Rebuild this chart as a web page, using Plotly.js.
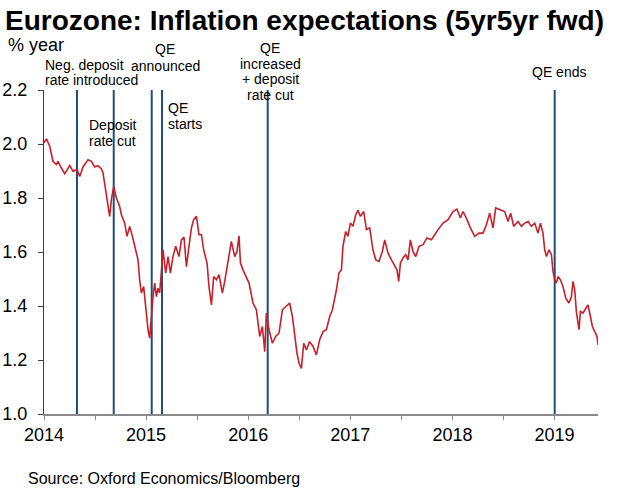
<!DOCTYPE html>
<html><head><meta charset="utf-8">
<script src="https://cdn.plot.ly/plotly-3.0.1.min.js"></script>
<style>html,body{margin:0;padding:0;background:#fff}#chart{width:625px;height:500px}</style>
</head><body><div id="chart"></div>
<script>
// ---- data (decimal years, % per year) ----
const dates = [2014.000,2014.024,2014.056,2014.088,2014.121,2014.137,2014.170,2014.203,2014.252,2014.284,2014.323,2014.350,2014.382,2014.431,2014.464,2014.497,2014.529,2014.562,2014.578,2014.604,2014.627,2014.643,2014.660,2014.683,2014.709,2014.741,2014.758,2014.790,2014.813,2014.839,2014.866,2014.888,2014.921,2014.937,2014.954,2014.976,2014.996,2015.019,2015.035,2015.052,2015.068,2015.084,2015.101,2015.117,2015.133,2015.166,2015.192,2015.215,2015.238,2015.263,2015.290,2015.322,2015.346,2015.371,2015.395,2015.420,2015.444,2015.466,2015.493,2015.518,2015.542,2015.564,2015.597,2015.616,2015.640,2015.662,2015.689,2015.714,2015.747,2015.770,2015.802,2015.835,2015.868,2015.890,2015.910,2015.924,2015.949,2015.982,2016.008,2016.047,2016.080,2016.113,2016.139,2016.162,2016.178,2016.204,2016.237,2016.269,2016.302,2016.335,2016.380,2016.406,2016.433,2016.455,2016.478,2016.498,2016.521,2016.544,2016.570,2016.602,2016.635,2016.668,2016.700,2016.733,2016.766,2016.798,2016.825,2016.864,2016.889,2016.913,2016.928,2016.955,2016.977,2017.001,2017.026,2017.053,2017.075,2017.099,2017.131,2017.158,2017.190,2017.222,2017.249,2017.281,2017.314,2017.337,2017.369,2017.403,2017.435,2017.457,2017.474,2017.491,2017.516,2017.543,2017.565,2017.589,2017.614,2017.641,2017.673,2017.712,2017.751,2017.794,2017.827,2017.859,2017.908,2017.957,2018.006,2018.045,2018.078,2018.104,2018.143,2018.176,2018.218,2018.261,2018.300,2018.333,2018.365,2018.398,2018.424,2018.463,2018.512,2018.545,2018.571,2018.600,2018.643,2018.676,2018.708,2018.741,2018.774,2018.806,2018.838,2018.862,2018.887,2018.904,2018.921,2018.946,2018.970,2018.985,2019.002,2019.019,2019.034,2019.058,2019.083,2019.110,2019.142,2019.166,2019.181,2019.198,2019.214,2019.240,2019.254,2019.279,2019.306,2019.328,2019.345,2019.371,2019.394,2019.416,2019.426];
const values = [2.004,2.019,1.992,1.936,1.924,1.936,1.911,1.890,1.920,1.899,1.905,1.880,1.915,1.942,1.936,1.915,1.920,1.908,1.893,1.831,1.769,1.732,1.794,1.843,1.800,1.769,1.738,1.707,1.658,1.695,1.658,1.627,1.571,1.497,1.448,1.472,1.398,1.312,1.281,1.374,1.435,1.485,1.435,1.466,1.448,1.608,1.522,1.583,1.522,1.583,1.621,1.583,1.645,1.655,1.546,1.621,1.689,1.720,1.732,1.664,1.664,1.608,1.559,1.472,1.404,1.509,1.497,1.516,1.448,1.491,1.571,1.639,1.583,1.602,1.660,1.559,1.534,1.509,1.485,1.411,1.386,1.287,1.324,1.231,1.374,1.312,1.262,1.287,1.300,1.386,1.404,1.411,1.361,1.287,1.225,1.188,1.169,1.262,1.237,1.268,1.250,1.219,1.275,1.305,1.312,1.361,1.386,1.460,1.522,1.534,1.621,1.676,1.658,1.707,1.695,1.738,1.754,1.732,1.750,1.683,1.689,1.608,1.571,1.565,1.602,1.645,1.596,1.571,1.546,1.534,1.491,1.559,1.578,1.590,1.571,1.645,1.602,1.583,1.621,1.627,1.652,1.645,1.664,1.683,1.707,1.720,1.750,1.759,1.726,1.750,1.720,1.689,1.658,1.670,1.670,1.701,1.744,1.689,1.763,1.757,1.750,1.713,1.744,1.695,1.713,1.695,1.707,1.713,1.695,1.707,1.670,1.707,1.670,1.608,1.583,1.608,1.590,1.528,1.497,1.485,1.509,1.497,1.472,1.429,1.411,1.435,1.491,1.460,1.380,1.312,1.380,1.374,1.392,1.404,1.374,1.324,1.305,1.287,1.256];
const eventDates = [2014.323, 2014.683, 2015.055, 2015.156, 2016.191, 2019.002];
const eventLabels = ["Neg. deposit<br>rate introduced", "Deposit<br>rate cut", "QE<br>announced", "QE<br>starts", "QE<br>increased<br>+ deposit<br>rate cut", "QE ends"];
const yearTicks = [2014, 2015, 2016, 2017, 2018, 2019];
const titleText = "Eurozone: Inflation expectations (5yr5yr fwd)";
const unitText = "% year";
const sourceText = "Source: Oxford Economics/Bloomberg";

// ---- layout geometry ----
const W = 625, H = 500;
const M = {l: 44, r: 27, t: 90, b: 86};
const PL = M.l, PR = W - M.r, PT = M.t, PB = H - M.b;
const pxX = px => (px - PL) / (PR - PL);
const pxY = py => (PB - py) / (PB - PT);
const FONT = "Liberation Sans, Arial, sans-serif";

// label placement per event (pixel coords): x, anchor, first line centre y, line step
const labelPos = [
  {x: 43, anchor: 'left', y: 65, step: 15},
  {x: 87, anchor: 'left', y: 125, step: 16},
  {x: 165, anchor: 'center', y: 49, step: 17},
  {x: 166, anchor: 'left', y: 108, step: 16},
  {x: 270, anchor: 'center', y: 48, step: 15.7},
  {x: 559, anchor: 'center', y: 72, step: 16}
];

const tickVals = [], tickText = [];
yearTicks.forEach((y, i) => {
  tickVals.push(y); tickText.push(String(y));
  if (i < yearTicks.length - 1) { tickVals.push(y + 0.5); tickText.push(''); }
});

const annotations = [];
eventLabels.forEach((lab, i) => {
  const p = labelPos[i];
  lab.split('<br>').forEach((line, j) => {
    annotations.push({
      xref: 'paper', yref: 'paper', x: pxX(p.x), y: pxY(p.y + j * p.step),
      xanchor: p.anchor, yanchor: 'middle', showarrow: false, text: line,
      font: {family: FONT, size: 14, color: '#000'}
    });
  });
});
annotations.push({xref: 'paper', yref: 'paper', x: pxX(6), y: pxY(45), xanchor: 'left', yanchor: 'middle',
  showarrow: false, text: unitText, font: {family: FONT, size: 18, color: '#000'}});
annotations.push({xref: 'paper', yref: 'paper', x: pxX(26), y: pxY(478), xanchor: 'left', yanchor: 'middle',
  showarrow: false, text: sourceText, font: {family: FONT, size: 16, color: '#000'}});

const shapes = eventDates.map(d => ({
  type: 'line', xref: 'x', yref: 'paper', x0: d, x1: d, y0: 0, y1: 1,
  line: {color: '#1f4e79', width: 2}, layer: 'below'
}));

const trace = {x: dates, y: values, type: 'scatter', mode: 'lines',
  line: {color: '#c8202b', width: 1.6}, hoverinfo: 'skip'};

const layout = {
  width: W, height: H, margin: M, showlegend: false,
  paper_bgcolor: '#fff', plot_bgcolor: '#fff',
  title: {text: titleText, xref: 'container', yref: 'container', x: 5 / W, xanchor: 'left',
    y: 1 - 20 / H, yanchor: 'middle', font: {family: FONT, size: 28, weight: 'bold', color: '#000'}},
  xaxis: {range: [2014, 2014 + (PR - PL) / 102.1], tickvals: tickVals, ticktext: tickText,
    ticks: 'outside', ticklen: 4, tickcolor: '#8a8a8a', tickwidth: 1,
    showline: true, linecolor: '#8a8a8a', linewidth: 1.5, showgrid: false, zeroline: false,
    tickfont: {family: FONT, size: 18, color: '#000'}},
  yaxis: {range: [1.0, 2.2], tickvals: [1.0, 1.2, 1.4, 1.6, 1.8, 2.0, 2.2], tickformat: '.1f',
    ticks: 'outside', ticklen: 5, tickcolor: '#404040', tickwidth: 1, ticklabelstandoff: 7,
    showline: true, linecolor: '#404040', linewidth: 1, showgrid: false, zeroline: false,
    tickfont: {family: FONT, size: 18, color: '#000'}},
  annotations: annotations, shapes: shapes
};

Plotly.newPlot('chart', [trace], layout, {staticPlot: true, displayModeBar: false});
</script>
</body></html>
